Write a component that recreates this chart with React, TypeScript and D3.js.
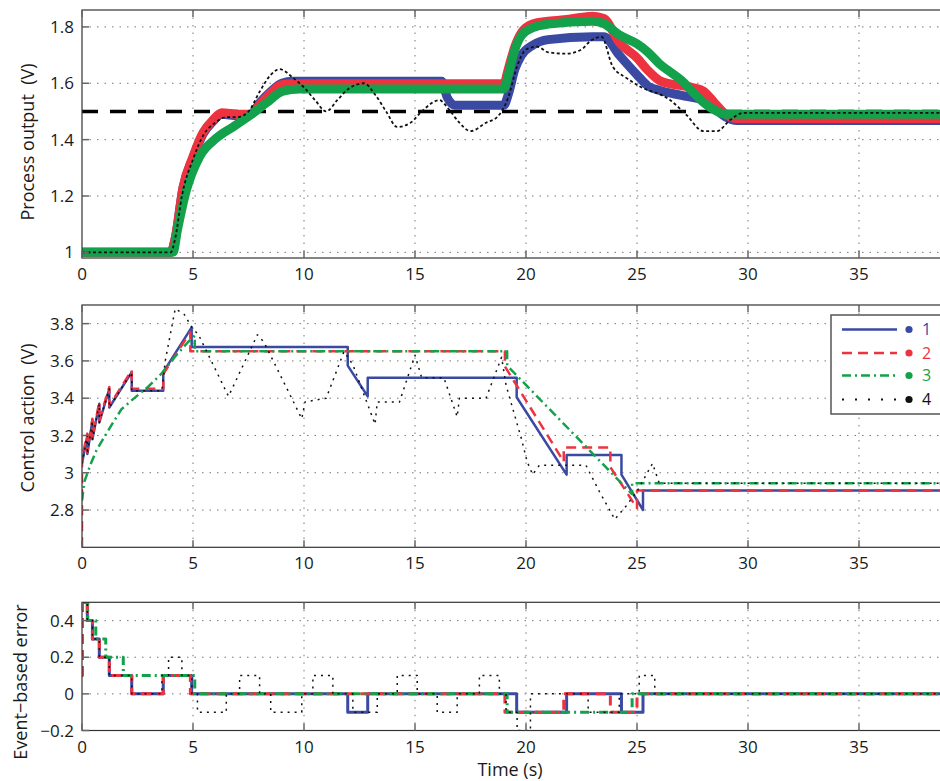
import React, { useEffect, useRef } from 'react'
import * as d3 from 'd3'

const timeTicks = [0, 5, 10, 15, 20, 25, 30, 35]
const outputTicks = [1, 1.2, 1.4, 1.6, 1.8]
const controlTicks = [2.8, 3, 3.2, 3.4, 3.6, 3.8]
const errorTicks = [-0.2, 0, 0.2, 0.4]
const legendLabels = ['1', '2', '3', '4']
const setpoint = [[0, 1.5], [40, 1.5]]

// process output: centre of the noisy traces (t, V)
const output1 = [[0, 1.0], [4.0, 1.0], [4.2, 1.05], [4.55, 1.23], [5.0, 1.335], [5.45, 1.42], [5.9, 1.465], [6.3, 1.49], [7.0, 1.485], [7.6, 1.49], [8.0, 1.53], [8.5, 1.57], [9.0, 1.6], [9.5, 1.607], [16.2, 1.607], [16.45, 1.55], [16.8, 1.522], [19.0, 1.522], [19.2, 1.56], [19.5, 1.65], [19.8, 1.7], [20.3, 1.735], [21.0, 1.755], [23.0, 1.765], [23.5, 1.765], [24.2, 1.7], [25.0, 1.63], [25.5, 1.59], [26.0, 1.575], [27.0, 1.557], [28.0, 1.54], [28.5, 1.51], [29.0, 1.48], [29.5, 1.468], [40, 1.468]]
const output2 = [[0, 1.0], [4.0, 1.0], [4.2, 1.05], [4.55, 1.23], [5.0, 1.34], [5.45, 1.425], [5.9, 1.47], [6.3, 1.495], [7.0, 1.49], [7.6, 1.49], [8.0, 1.525], [8.5, 1.565], [9.0, 1.595], [9.5, 1.598], [19.0, 1.598], [19.2, 1.65], [19.5, 1.73], [19.8, 1.78], [20.3, 1.81], [21.0, 1.82], [22.0, 1.828], [23.0, 1.838], [23.5, 1.83], [24.2, 1.745], [25.0, 1.69], [25.5, 1.645], [26.0, 1.61], [26.5, 1.598], [27.0, 1.592], [27.5, 1.585], [28.0, 1.572], [28.5, 1.53], [29.0, 1.49], [29.5, 1.475], [40, 1.475]]
const output3 = [[0, 1.0], [4.1, 1.0], [4.3, 1.08], [4.7, 1.22], [5.3, 1.34], [6.05, 1.405], [6.8, 1.445], [7.55, 1.485], [8.3, 1.53], [9.05, 1.572], [9.8, 1.58], [19.0, 1.58], [19.2, 1.63], [19.5, 1.72], [19.8, 1.77], [20.3, 1.797], [21.0, 1.81], [23.0, 1.82], [23.5, 1.812], [24.2, 1.772], [25.0, 1.74], [25.5, 1.71], [26.0, 1.67], [26.5, 1.64], [27.0, 1.61], [27.5, 1.57], [28.0, 1.532], [28.5, 1.505], [29.0, 1.49], [40, 1.49]]
const output4 = [[0, 1.0], [4.0, 1.0], [4.2, 1.05], [4.5, 1.2], [5.0, 1.33], [5.5, 1.42], [6.0, 1.46], [6.5, 1.48], [7.0, 1.48], [7.5, 1.5], [8.0, 1.57], [8.5, 1.63], [8.9, 1.65], [9.5, 1.62], [10.0, 1.585], [10.5, 1.54], [11.0, 1.5], [11.5, 1.54], [12.0, 1.58], [12.7, 1.6], [13.2, 1.56], [13.7, 1.5], [14.2, 1.445], [14.8, 1.46], [15.3, 1.5], [16.1, 1.54], [16.5, 1.51], [17.0, 1.46], [17.5, 1.43], [18.2, 1.46], [18.7, 1.48], [19.2, 1.55], [19.6, 1.66], [20.0, 1.72], [20.5, 1.73], [21.0, 1.71], [21.8, 1.705], [22.5, 1.72], [22.9, 1.75], [23.4, 1.765], [23.9, 1.66], [24.5, 1.62], [25.1, 1.59], [26.5, 1.54], [27.2, 1.49], [28.0, 1.43], [28.6, 1.43], [29.2, 1.47], [29.8, 1.495], [40, 1.495]]

// control action (t, V)
const control1 = [[0, 3.05], [0.24, 3.2], [0.24, 3.1], [0.47, 3.28], [0.47, 3.18], [0.78, 3.37], [0.78, 3.27], [1.23, 3.45], [1.23, 3.35], [2.24, 3.54], [2.24, 3.44], [3.66, 3.44], [3.66, 3.54], [4.94, 3.78], [4.94, 3.675], [11.97, 3.675], [11.97, 3.575], [12.87, 3.41], [12.87, 3.51], [19.58, 3.51], [19.58, 3.405], [21.83, 2.99], [21.83, 3.095], [24.3, 3.095], [24.3, 2.99], [25.27, 2.8], [25.27, 2.905], [40, 2.905]]
const control2 = [[0, 2.6], [0, 3.08], [0.24, 3.21], [0.24, 3.11], [0.47, 3.29], [0.47, 3.19], [0.78, 3.38], [0.78, 3.28], [1.23, 3.46], [1.23, 3.36], [2.24, 3.55], [2.24, 3.45], [3.66, 3.45], [3.66, 3.53], [4.88, 3.755], [4.88, 3.652], [19.05, 3.652], [19.05, 3.57], [21.7, 3.06], [21.7, 3.135], [23.8, 3.135], [23.8, 3.03], [25.0, 2.81], [25.0, 2.905], [40, 2.905]]
const control3 = [[0, 2.85], [0.1, 2.95], [0.25, 3.0], [0.4, 3.05], [0.65, 3.12], [1.17, 3.225], [1.77, 3.34], [2.3, 3.395], [2.97, 3.46], [3.57, 3.53], [4.17, 3.62], [4.77, 3.7], [5.08, 3.735], [5.08, 3.652], [19.15, 3.652], [19.15, 3.575], [24.78, 2.885], [24.78, 2.944], [40, 2.944]]
const control4 = [[0, 3.05], [0.24, 3.2], [0.24, 3.1], [0.47, 3.28], [0.47, 3.18], [0.78, 3.37], [0.78, 3.27], [1.23, 3.45], [1.23, 3.35], [2.24, 3.54], [2.24, 3.44], [3.6, 3.44], [3.75, 3.6], [4.2, 3.88], [4.6, 3.85], [4.95, 3.78], [5.25, 3.74], [6.6, 3.41], [7.9, 3.74], [8.2, 3.7], [9.9, 3.29], [10.05, 3.38], [11.0, 3.4], [11.8, 3.65], [12.2, 3.58], [13.2, 3.26], [13.3, 3.38], [14.3, 3.38], [15.0, 3.63], [15.3, 3.51], [16.3, 3.51], [16.9, 3.3], [17.0, 3.4], [18.2, 3.4], [18.9, 3.62], [19.1, 3.47], [19.8, 3.18], [20.05, 3.06], [20.3, 2.99], [20.6, 3.04], [22.7, 3.04], [23.3, 2.9], [24.0, 2.75], [24.5, 2.82], [25.0, 2.9], [25.7, 3.05], [26.0, 2.944], [40, 2.944]]

// event-based error, held until the next event (t, e)
const error1 = [[0, 0.5], [0.24, 0.4], [0.47, 0.3], [0.78, 0.2], [1.23, 0.1], [2.24, 0], [3.66, 0.1], [4.94, 0], [11.97, -0.1], [12.87, 0], [19.58, -0.1], [21.83, 0], [24.3, -0.1], [25.27, 0], [40, 0]]
const error2 = [[0, 0.1], [0.02, 0.5], [0.24, 0.4], [0.47, 0.3], [0.78, 0.2], [1.23, 0.1], [2.24, 0], [3.66, 0.1], [4.88, 0], [19.05, -0.1], [21.7, 0], [23.8, -0.1], [25.0, 0], [40, 0]]
const error3 = [[0, 0.5], [0.26, 0.4], [0.62, 0.3], [1.07, 0.2], [1.86, 0.1], [5.08, 0], [19.15, -0.1], [24.78, 0], [40, 0]]
const error4 = [[0, 0.5], [0.24, 0.4], [0.47, 0.3], [0.78, 0.2], [1.23, 0.1], [2.24, 0], [3.6, 0.1], [3.9, 0.2], [4.5, 0.1], [4.95, 0], [5.2, -0.1], [6.5, 0], [7.1, 0.1], [8.0, 0], [8.5, -0.1], [9.9, 0], [10.4, 0.1], [11.3, 0], [12.2, -0.1], [13.3, 0], [14.2, 0.1], [15.1, 0], [16.0, -0.1], [16.9, 0], [17.9, 0.1], [18.8, 0], [19.1, -0.1], [19.6, -0.2], [20.2, 0], [22.8, -0.1], [24.2, 0], [25.1, 0.1], [25.8, 0], [40, 0]]

const colors = ['#3a4aa3', '#ee3340', '#14a14b', '#111']
const dashes = [null, '10,6', '9,4,2,4', '2,5']
const FONT = '"Open Sans", "Noto Sans", sans-serif'

const panels = [
  { id: 'out', top: 10, bottom: 258, domain: [0.98, 1.86], ticks: outputTicks, label: 'Process output\u00a0 (V)', labelX: 34, labelY: 142, series: [output1, output2, output3, output4], kind: 'band' },
  { id: 'ctl', top: 305, bottom: 547.3, domain: [2.6, 3.9], ticks: controlTicks, label: 'Control action\u00a0 (V)', labelX: 34, labelY: 418, series: [control1, control2, control3, control4], kind: 'line' },
  { id: 'err', top: 602.3, bottom: 730.5, domain: [-0.2, 0.5], ticks: errorTicks, label: 'Event\u2212based error', labelX: 27, labelY: 682, series: [error1, error2, error3, error4], kind: 'step' },
]

const fmt = (v) => String(+v.toFixed(2)).replace('-', '\u2212')

function drawPanel(svg, p, x) {
  const y = d3.scaleLinear().domain(p.domain).range([p.bottom, p.top])
  const [x0, x1] = x.range()
  const g = svg.append('g')

  g.append('clipPath').attr('id', 'clip-' + p.id)
    .append('rect')
      .attr('x', x0).attr('y', p.top)
      .attr('width', x1 - x0).attr('height', p.bottom - p.top)

  // dotted grid
  g.selectAll('.vgrid').data(timeTicks.filter((t) => t > 0)).enter()
    .append('line')
      .attr('x1', (d) => x(d)).attr('x2', (d) => x(d))
      .attr('y1', p.top).attr('y2', p.bottom)
      .attr('stroke', '#777').attr('stroke-width', 1)
      .attr('stroke-dasharray', '1.5,6');
  g.selectAll('.hgrid').data(p.ticks.filter((t) => t > p.domain[0])).enter()
    .append('line')
      .attr('x1', x0).attr('x2', x1)
      .attr('y1', (d) => y(d)).attr('y2', (d) => y(d))
      .attr('stroke', '#777').attr('stroke-width', 1)
      .attr('stroke-dasharray', '1.5,6');

  const plot = g.append('g').attr('clip-path', `url(#clip-${p.id})`)
  const line = d3.line().x((d) => x(d[0])).y((d) => y(d[1]))
  if (p.kind === 'band') line.curve(d3.curveMonotoneX)
  if (p.kind === 'step') line.curve(d3.curveStepAfter)

  if (p.kind === 'band') {
    plot.append('path').datum(setpoint)
      .attr('d', line).attr('fill', 'none')
      .attr('stroke', '#000').attr('stroke-width', 3.5)
      .attr('stroke-dasharray', '16,12');
  }

  p.series.forEach((s, i) => {
    const path = plot.append('path').datum(s)
      .attr('d', line).attr('fill', 'none')
      .attr('stroke', colors[i])
      .attr('stroke-linejoin', 'round');
    if (p.kind === 'band') {
      path.attr('stroke-width', i === 3 ? 1.8 : 9)
      if (i === 3) path.attr('stroke-dasharray', '3,2.5')
    } else {
      path.attr('stroke-width', i === 3 ? 1.5 : (p.kind === 'step' ? 3 : 2.5))
      if (dashes[i]) path.attr('stroke-dasharray', dashes[i])
    }
  });

  // frame and inner ticks
  g.append('rect')
    .attr('x', x0).attr('y', p.top)
    .attr('width', x1 - x0).attr('height', p.bottom - p.top)
    .attr('fill', 'none').attr('stroke', '#333').attr('stroke-width', 1.2);
  timeTicks.forEach((t) => {
    [[p.top, p.top + 7], [p.bottom, p.bottom - 7]].forEach(([a, b]) => {
      g.append('line')
        .attr('x1', x(t)).attr('x2', x(t)).attr('y1', a).attr('y2', b)
        .attr('stroke', '#666').attr('stroke-width', 1.5)
    })
  });
  p.ticks.forEach((t) => {
    g.append('line')
      .attr('x1', x0).attr('x2', x0 + 7).attr('y1', y(t)).attr('y2', y(t))
      .attr('stroke', '#666').attr('stroke-width', 1.5)
  });

  // tick labels
  g.selectAll('.xl').data(timeTicks).enter()
    .append('text')
      .attr('x', (d) => x(d)).attr('y', p.bottom + 22)
      .attr('text-anchor', 'middle')
      .attr('font-size', 17).attr('font-family', FONT).attr('fill', '#1a1a1a')
      .text((d) => d);
  g.selectAll('.yl').data(p.ticks).enter()
    .append('text')
      .attr('x', x0 - 8).attr('y', (d) => y(d))
      .attr('dy', '0.36em')
      .attr('text-anchor', 'end')
      .attr('font-size', 17).attr('font-family', FONT).attr('fill', '#1a1a1a')
      .text((d) => fmt(d));

  g.append('text')
    .attr('transform', `translate(${p.labelX},${p.labelY}) rotate(-90)`)
    .attr('text-anchor', 'middle')
    .attr('font-size', 18).attr('font-family', FONT).attr('fill', '#1a1a1a')
    .text(p.label);
}

function drawLegend(svg) {
  const g = svg.append('g')
  g.append('rect')
    .attr('x', 831).attr('y', 315).attr('width', 120).attr('height', 99)
    .attr('fill', '#fff').attr('stroke', '#555').attr('stroke-width', 1.5);
  const rows = [329.5, 353, 375.5, 399.5]
  legendLabels.forEach((lab, i) => {
    const line = g.append('line')
      .attr('x1', 842).attr('x2', 897).attr('y1', rows[i]).attr('y2', rows[i])
      .attr('stroke', colors[i]).attr('stroke-width', i === 3 ? 2 : 2.5);
    if (dashes[i]) line.attr('stroke-dasharray', i === 3 ? '2,11' : dashes[i])
    g.append('circle')
      .attr('cx', 909).attr('cy', rows[i]).attr('r', 3.6)
      .attr('fill', colors[i]);
    g.append('text')
      .attr('x', 922).attr('y', rows[i]).attr('dy', '0.36em')
      .attr('font-size', 16).attr('font-family', FONT).attr('fill', colors[i])
      .text(lab);
  });
}

export default function App() {
  const ref = useRef(null)

  useEffect(() => {
    const svg = d3.select(ref.current)
    svg.selectAll('*').remove()
    const x = d3.scaleLinear().domain([0, 40]).range([82, 970])
    panels.forEach((p) => drawPanel(svg, p, x))
    drawLegend(svg)
    svg.append('text')
      .attr('x', 510).attr('y', 776)
      .attr('text-anchor', 'middle')
      .attr('font-size', 18).attr('font-family', FONT).attr('fill', '#1a1a1a')
      .text('Time (s)');
  }, [])

  return (
    <svg ref={ref} width={940} height={781}
      style={{ position: 'absolute', left: 0, top: 0, background: '#fff' }} />
  )
}
